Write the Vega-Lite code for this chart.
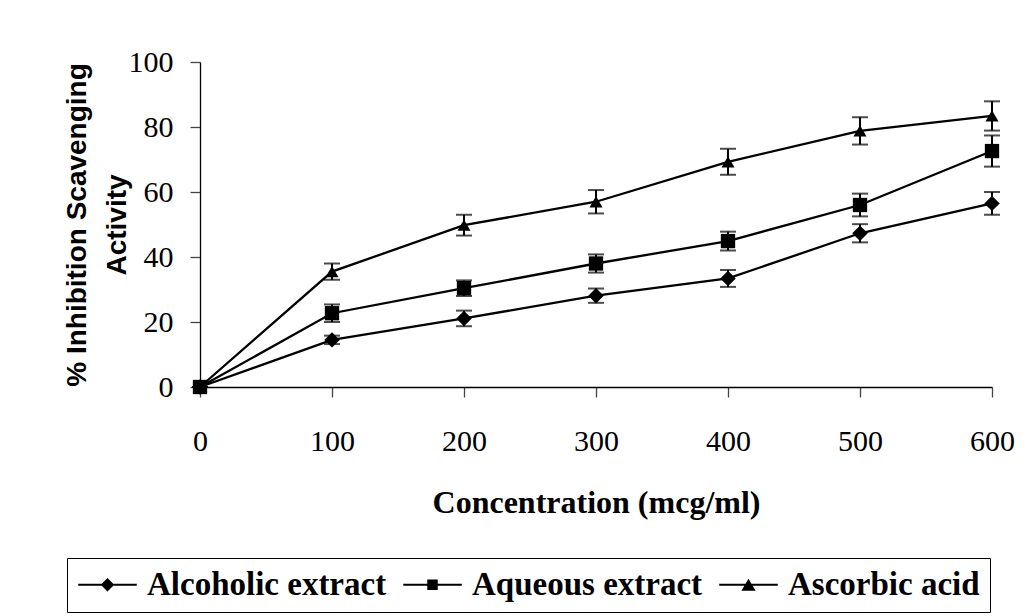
{
  "$schema": "https://vega.github.io/schema/vega-lite/v6.json",
  "width": 792,
  "height": 325,
  "autosize": "none",
  "padding": {"left": 200, "top": 62, "right": 41, "bottom": 229},
  "background": "white",
  "data": {
    "values": [
      {"conc": 0, "series": "Ascorbic acid", "mean": 0, "err": 0},
      {"conc": 100, "series": "Ascorbic acid", "mean": 35.5, "err": 2.5},
      {"conc": 200, "series": "Ascorbic acid", "mean": 49.8, "err": 3.2},
      {"conc": 300, "series": "Ascorbic acid", "mean": 57.0, "err": 3.6},
      {"conc": 400, "series": "Ascorbic acid", "mean": 69.3, "err": 4.0},
      {"conc": 500, "series": "Ascorbic acid", "mean": 78.8, "err": 4.2},
      {"conc": 600, "series": "Ascorbic acid", "mean": 83.4, "err": 4.5},
      {"conc": 0, "series": "Alcoholic extract", "mean": 0, "err": 0},
      {"conc": 100, "series": "Alcoholic extract", "mean": 14.5, "err": 1.3},
      {"conc": 200, "series": "Alcoholic extract", "mean": 21.1, "err": 2.4},
      {"conc": 300, "series": "Alcoholic extract", "mean": 28.1, "err": 2.2},
      {"conc": 400, "series": "Alcoholic extract", "mean": 33.4, "err": 2.6},
      {"conc": 500, "series": "Alcoholic extract", "mean": 47.3, "err": 2.8},
      {"conc": 600, "series": "Alcoholic extract", "mean": 56.5, "err": 3.5},
      {"conc": 0, "series": "Aqueous extract", "mean": 0, "err": 0},
      {"conc": 100, "series": "Aqueous extract", "mean": 22.7, "err": 2.7},
      {"conc": 200, "series": "Aqueous extract", "mean": 30.4, "err": 2.4},
      {"conc": 300, "series": "Aqueous extract", "mean": 38.0, "err": 2.8},
      {"conc": 400, "series": "Aqueous extract", "mean": 44.9, "err": 2.9},
      {"conc": 500, "series": "Aqueous extract", "mean": 56.0, "err": 3.5},
      {"conc": 600, "series": "Aqueous extract", "mean": 72.6, "err": 4.8}
    ]
  },
  "encoding": {
    "x": {
      "field": "conc", "type": "quantitative",
      "scale": {"domain": [0, 600], "nice": false, "zero": true},
      "axis": {
        "title": "Concentration (mcg/ml)",
        "values": [0, 100, 200, 300, 400, 500, 600],
        "grid": false,
        "labelPadding": 29,
        "titleY": 125,
        "titleBaseline": "alphabetic",
        "titleFont": "Liberation Serif",
        "titleFontSize": 32,
        "titleFontWeight": "bold"
      }
    },
    "y": {
      "field": "mean", "type": "quantitative",
      "scale": {"domain": [0, 100], "nice": false},
      "axis": {
        "title": ["% Inhibition Scavenging", "Activity"],
        "values": [0, 20, 40, 60, 80, 100],
        "grid": false,
        "labelPadding": 17,
        "titleX": -123,
        "titleBaseline": "middle",
        "titleLineHeight": 40,
        "titleFont": "Liberation Sans",
        "titleFontSize": 28,
        "titleFontWeight": "bold"
      }
    }
  },
  "layer": [
    {
      "mark": {"type": "line", "color": "black", "strokeWidth": 2.3},
      "encoding": {"detail": {"field": "series"}, "order": {"field": "conc"}}
    },
    {
      "mark": {
        "type": "errorbar",
        "thickness": 2,
        "rule": {"color": "black", "strokeWidth": 2},
        "ticks": {"color": "black", "size": 16, "thickness": 2}
      },
      "encoding": {
        "yError": {"field": "err"},
        "detail": {"field": "series"}
      }
    },
    {
      "mark": {"type": "point", "filled": true, "color": "black", "opacity": 1},
      "encoding": {
        "shape": {
          "field": "series", "type": "nominal",
          "scale": {"domain": ["Alcoholic extract", "Aqueous extract", "Ascorbic acid"], "range": ["diamond", "square", "triangle-up"]},
          "legend": null
        },
        "size": {
          "field": "series", "type": "nominal",
          "scale": {"domain": ["Alcoholic extract", "Aqueous extract", "Ascorbic acid"], "range": [240, 170, 300]},
          "legend": null
        }
      }
    },
    {
      "mark": {"type": "point", "filled": true, "color": "black", "opacity": 0},
      "encoding": {
        "shape": {
          "field": "series", "type": "nominal",
          "scale": {
            "domain": ["Alcoholic extract", "Aqueous extract", "Ascorbic acid"],
            "range": [
              "M-1.95,-0.07H1.95V0.07H-1.95ZM-0.45,0L0,-0.45L0.45,0L0,0.45Z",
              "M-1.95,-0.07H1.95V0.07H-1.95ZM-0.35,-0.35H0.35V0.35H-0.35Z",
              "M-1.95,-0.07H1.95V0.07H-1.95ZM0,-0.4L0.47,0.4H-0.47Z"
            ]
          },
          "legend": {
            "title": null,
            "orient": "none",
            "legendX": -133,
            "legendY": 496,
            "direction": "horizontal",
            "columns": 3,
            "strokeColor": "black",
            "padding": 10,
            "symbolSize": 900,
            "symbolOffset": 14,
            "symbolOpacity": 1,
            "symbolFillColor": "black",
            "symbolStrokeWidth": 0,
            "labelOffset": 23,
            "columnPadding": 15,
            "labelFont": "Liberation Serif",
            "labelFontSize": 33,
            "labelFontWeight": "bold",
            "labelColor": "black",
            "labelLimit": 500,
            "encode": {
              "symbols": {
                "update": {
                  "fill": {"value": "black"},
                  "opacity": {"value": 1}
                }
              }
            }
          }
        }
      }
    }
  ],
  "resolve": {"scale": {"shape": "independent"}},
  "config": {
    "view": {"stroke": null},
    "axis": {
      "domainColor": "black",
      "domainWidth": 1.3,
      "tickColor": "#444",
      "tickSize": 10,
      "tickWidth": 1.3,
      "labelFont": "Liberation Serif",
      "labelFontSize": 30,
      "labelColor": "black",
      "titleColor": "black",
      "labelFlush": false,
      "labelOverlap": false
    }
  }
}
